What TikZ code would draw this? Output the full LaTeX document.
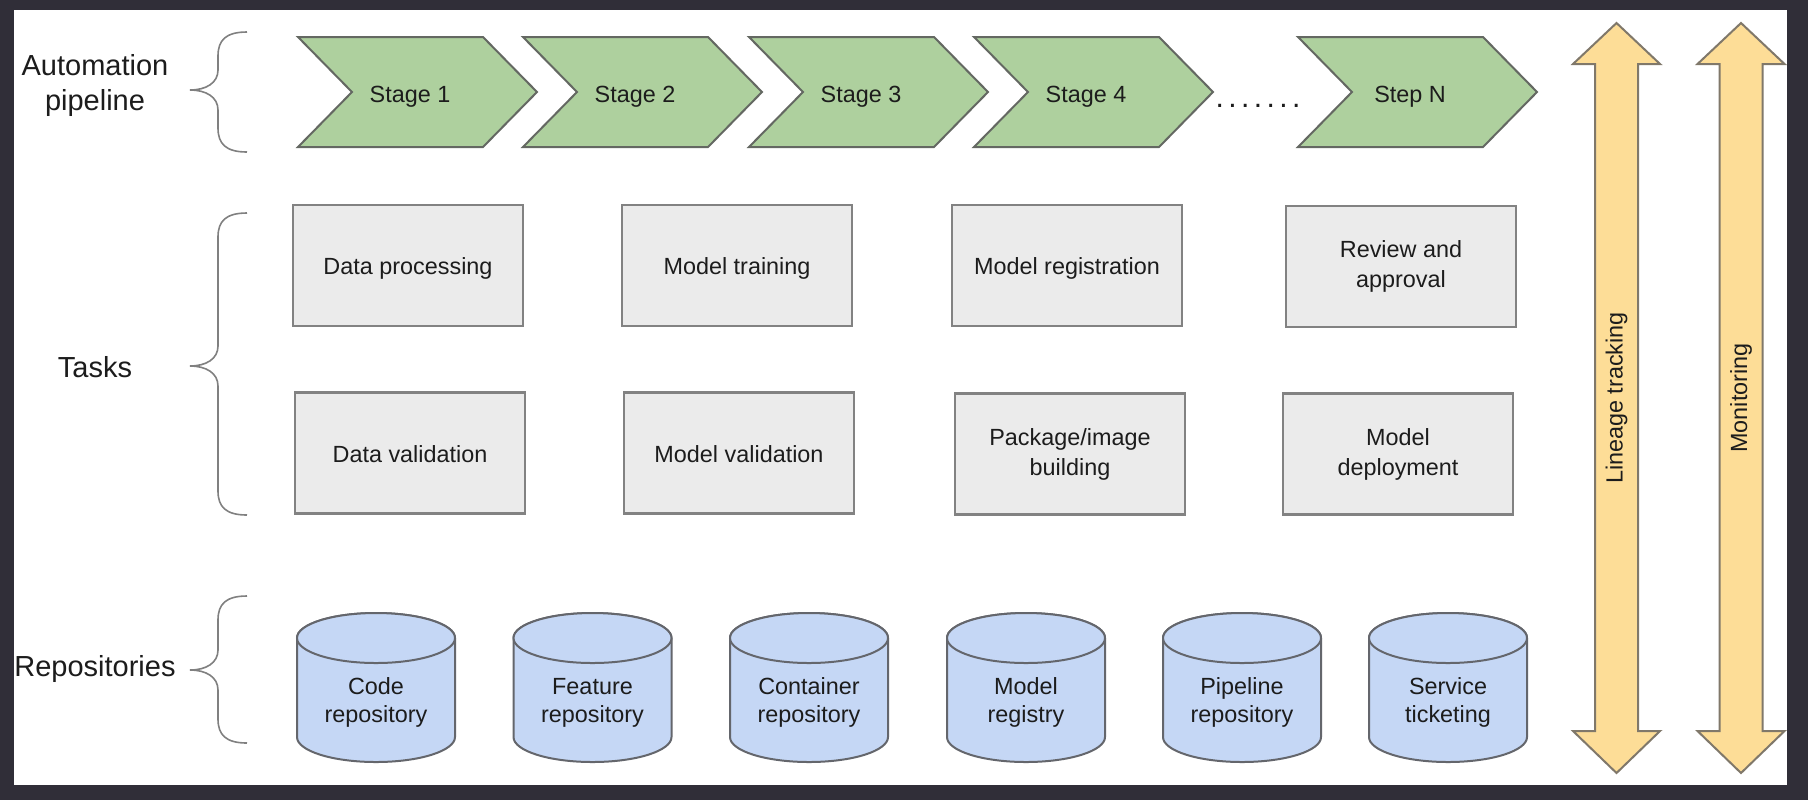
\documentclass[tikz,border=0pt]{standalone}
\usepackage{fontspec}
\setmainfont{Liberation Sans}
\definecolor{frame}{RGB}{48,46,56}
\definecolor{ink}{RGB}{28,28,28}
\definecolor{chevfill}{RGB}{174,208,158}
\definecolor{chevline}{RGB}{100,104,98}
\definecolor{taskfill}{RGB}{235,235,235}
\definecolor{taskline}{RGB}{130,130,130}
\definecolor{cylfill}{RGB}{197,215,245}
\definecolor{cylline}{RGB}{100,102,108}
\definecolor{arrfill}{RGB}{253,221,151}
\definecolor{arrline}{RGB}{128,120,106}
\definecolor{braceline}{RGB}{128,128,128}
\newcommand\mkchev[3]{%
  \draw[chev] (#1,37) -- ++(185,0) -- ++(54,55) -- ++(-54,55) -- ++(-185,0) -- ++(54,-55) -- cycle;
  \node[txt, one, text height=11pt, text depth=1pt] (#2) at (#1+112,92) {#3};}
\newcommand\mkbrace[3]{%
  \draw[brace] (247,#1) .. controls (226,#1) and (218,#1+8) .. (218,#1+24)
    -- (218,#2-20) .. controls (218,#2-7) and (206,#2) .. (190,#2)
    .. controls (206,#2) and (218,#2+7) .. (218,#2+20)
    -- (218,#3-24) .. controls (218,#3-8) and (226,#3) .. (247,#3);}
\newcommand\mkcyl[4]{%
  \filldraw[cyl] (#1-79,638) -- (#1-79,737) arc[start angle=180,end angle=0,x radius=79,y radius=25]
    -- (#1+79,638) arc[start angle=0,end angle=-180,x radius=79,y radius=25] -- cycle;
  \draw[cyl] (#1,638) ellipse [x radius=79,y radius=25];
  \node[txt, font=\fontsize{11.7pt}{13.9pt}\selectfont] (#2) at (#1,702.5) {#3\\#4};}
\newcommand\mkarrow[1]{%
  \filldraw[bigarrow] (#1,23) -- (#1+43.5,64) -- (#1+21.5,64) -- (#1+21.5,731) -- (#1+43.5,731)
    -- (#1,773) -- (#1-43.5,731) -- (#1-21.5,731) -- (#1-21.5,64) -- (#1-43.5,64) -- cycle;}
\begin{document}
\begin{tikzpicture}[x=0.5pt,y=-0.5pt,
  lbl/.style={font=\fontsize{14.5pt}{17.5pt}\selectfont, text=ink, align=center, inner sep=0pt},
  txt/.style={font=\fontsize{11.7pt}{15pt}\selectfont, text=ink, align=center, inner sep=0pt},
  one/.style={text height=10pt, text depth=1pt},
  chev/.style={fill=chevfill, draw=chevline, line width=1pt, line join=miter},
  task/.style={txt, draw=taskline, fill=taskfill, line width=1.1pt, minimum width=115pt, minimum height=60.5pt},
  cyl/.style={fill=cylfill, draw=cylline, line width=1pt},
  bigarrow/.style={fill=arrfill, draw=arrline, line width=1pt, line join=miter},
  brace/.style={draw=braceline, line width=0.8pt}]
\fill[frame] (0,0) rectangle (1808,800);
\fill[white] (14,10) rectangle (1787,785);
\useasboundingbox (0,0) rectangle (1808,800);

% row labels and braces
\node[lbl] (lauto) at (95,85.5) {Automation\\pipeline};
\node[lbl] (ltasks) at (95,367) {Tasks};
\node[lbl] (lrepo) at (95,669) {Repositories};
\mkbrace{32}{90}{152}
\mkbrace{213}{366}{515}
\mkbrace{596}{670}{743}

% pipeline
\mkchev{298}{s1}{Stage 1}
\mkchev{523}{s2}{Stage 2}
\mkchev{749}{s3}{Stage 3}
\mkchev{974}{s4}{Stage 4}
\mkchev{1298}{sn}{Step N}
\node[txt, font=\fontsize{15pt}{15pt}\selectfont, anchor=base] (dots) at (1258,107) {.\kern2.2pt.\kern2.2pt.\kern2.2pt.\kern2.2pt.\kern2.2pt.\kern2.2pt.};

% tasks
\node[task, one] (dp) at (408,265.5) {Data processing};
\node[task, one] (mt) at (737,265.5) {Model training};
\node[task, one] (mr) at (1067,265.5) {Model registration};
\node[task] (ra) at (1401,266.5) {Review and\\approval};
\node[task, one] (dv) at (410,453) {Data validation};
\node[task, one] (mv) at (739,453) {Model validation};
\node[task] (pb) at (1070,454) {Package/image\\building};
\node[task] (md) at (1398,454) {Model\\deployment};

% repositories
\mkcyl{376}{cr}{Code}{repository}
\mkcyl{592.5}{fr}{Feature}{repository}
\mkcyl{809}{ctr}{Container}{repository}
\mkcyl{1026}{mreg}{Model}{registry}
\mkcyl{1242}{pr}{Pipeline}{repository}
\mkcyl{1448}{st}{Service}{ticketing}

% side arrows
\mkarrow{1616.5}
\mkarrow{1741}
\node[txt, rotate=90] (lin) at (1616.5,398) {Lineage tracking};
\node[txt, rotate=90] (mon) at (1741,398) {Monitoring};
\end{tikzpicture}
\end{document}
